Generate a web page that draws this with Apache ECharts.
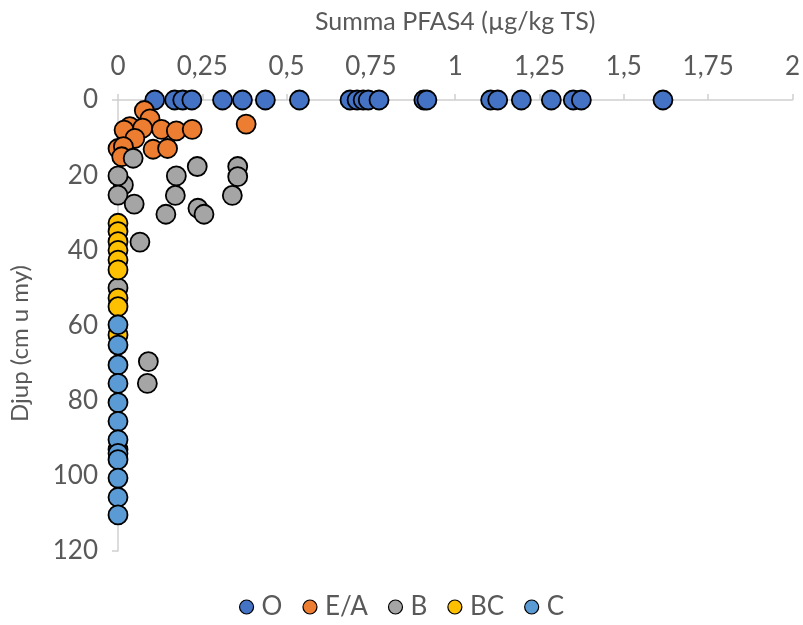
<!DOCTYPE html>
<html>
<head>
<meta charset="utf-8">
<script src="https://cdn.jsdelivr.net/npm/echarts@6/dist/echarts.min.js"></script>
<style>html,body{margin:0;padding:0;background:#fff}#c{width:803px;height:625px}</style>
</head>
<body>
<div id="c"></div>
<script>
// ---- data ----
const seriesNames = ['O', 'E/A', 'B', 'BC', 'C'];
const xTicks = [0, 0.25, 0.5, 0.75, 1, 1.25, 1.5, 1.75, 2];
const yTicks = [0, 20, 40, 60, 80, 100, 120];

const O_x = [0.109, 0.168, 0.192, 0.219, 0.310, 0.369, 0.437, 0.538, 0.688, 0.709, 0.727, 0.742, 0.774, 0.907, 0.916, 1.105, 1.126, 1.196, 1.285, 1.350, 1.374, 1.616];
const O_y = [0, 0, 0, 0, 0, 0, 0, 0, 0, 0, 0, 0, 0, 0, 0, 0, 0, 0, 0, 0, 0, 0];

const EA_x = [0.078, 0.095, 0.380, 0.035, 0.018, 0.073, 0.129, 0.173, 0.220, 0.050, 0.000, 0.016, 0.104, 0.147, 0.011];
const EA_y = [2.8, 5.0, 6.4, 7.1, 8.0, 7.5, 7.8, 8.2, 7.8, 10.2, 12.9, 12.4, 13.1, 12.9, 15.1];

const B_x = [0.045, 0.016, 0.000, 0.000, 0.048, 0.173, 0.170, 0.235, 0.355, 0.355, 0.339, 0.142, 0.237, 0.255, 0.065, 0.000, 0.090, 0.087];
const B_y = [15.5, 22.6, 20.2, 25.3, 27.7, 20.2, 25.4, 17.7, 17.7, 20.4, 25.4, 30.4, 28.8, 30.4, 37.8, 50.0, 69.6, 75.4];

const BC_x = [0, 0, 0, 0, 0, 0, 0, 0, 0, 0];
const BC_y = [32.8, 35.0, 37.7, 40.0, 42.6, 45.2, 52.7, 55.0, 62.5, 93.0];

const C_x = [0, 0, 0, 0, 0, 0, 0, 0, 0, 0, 0, 0];
const C_y = [59.8, 65.2, 70.5, 75.4, 80.5, 85.5, 90.4, 94.0, 95.7, 100.6, 105.7, 110.4];

const xs = [O_x, EA_x, B_x, BC_x, C_x];
const ys = [O_y, EA_y, B_y, BC_y, C_y];
const colors = ['#4472C4', '#ED7D31', '#A5A5A5', '#FFC000', '#5B9BD5'];

// ---- chart ----
const FONT = 'Lato';
const TXT = '#595959';
const AX = '#D0D0D0';
const chart = echarts.init(document.getElementById('c'), null, {renderer: 'canvas'});
const series = seriesNames.map((n, i) => ({
  name: n,
  type: 'scatter',
  symbol: 'circle',
  symbolSize: 19,
  itemStyle: {color: colors[i], borderColor: '#000', borderWidth: 1.8, opacity: 1},
  emphasis: {disabled: true},
  data: xs[i].map((v, k) => [v, ys[i][k]])
}));
chart.setOption({
  animation: false,
  color: colors,
  grid: {left: 118, right: 8, top: 100, bottom: 74, containLabel: false},
  xAxis: {
    type: 'value', position: 'top',
    min: xTicks[0], max: xTicks[xTicks.length - 1], interval: 0.25,
    name: 'Summa PFAS4 (µg/kg TS)', nameLocation: 'middle', nameGap: 66,
    nameTextStyle: {color: TXT, fontFamily: FONT, fontSize: 25},
    axisLine: {show: true, lineStyle: {color: AX, width: 1.5}},
    axisTick: {show: true, inside: false, length: 6, lineStyle: {color: AX, width: 1.5}},
    splitLine: {show: false},
    axisLabel: {color: TXT, fontFamily: FONT, fontSize: 26, margin: 20,
      formatter: v => String(v).replace('.', ',')}
  },
  yAxis: {
    type: 'value', inverse: true,
    min: yTicks[0], max: yTicks[yTicks.length - 1], interval: 20,
    name: 'Djup (cm u my)', nameLocation: 'middle', nameGap: 86, nameRotate: 90,
    nameTextStyle: {color: TXT, fontFamily: FONT, fontSize: 24, padding: [0, 36, 0, 0]},
    axisLine: {show: true, lineStyle: {color: AX, width: 1.5}},
    axisTick: {show: true, inside: false, length: 6, lineStyle: {color: AX, width: 1.5}},
    splitLine: {show: false},
    axisLabel: {color: TXT, fontFamily: FONT, fontSize: 26, margin: 20}
  },
  legend: {
    bottom: 0, left: 'center',
    data: seriesNames,
    icon: 'circle', itemWidth: 14, itemHeight: 14, itemGap: 20,
    itemStyle: {borderColor: '#000', borderWidth: 1.2},
    textStyle: {color: TXT, fontFamily: FONT, fontSize: 26, padding: [0, 0, 0, 3]}
  },
  series: series
});
</script>
</body>
</html>
